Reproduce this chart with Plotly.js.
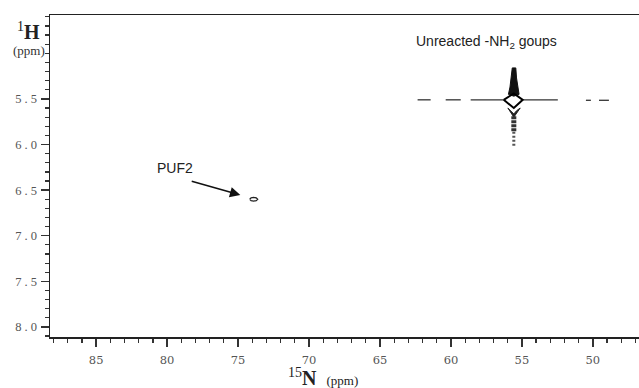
<!DOCTYPE html>
<html><head><meta charset="utf-8">
<script src="https://cdn.plot.ly/plotly-3.0.1.min.js"></script>
<style>html,body{margin:0;padding:0;background:#fff}#c{width:639px;height:388px}</style>
</head><body><div id="c"></div>
<script>
// 15N (ppm) / 1H (ppm) contour outlines
var xTicks = [85, 80, 75, 70, 65, 60, 55, 50];
var yTicks = [5.5, 6.0, 6.5, 7.0, 7.5, 8.0];
var yTickText = ['5 . 5', '6 . 0', '6 . 5', '7 . 0', '7 . 5', '8 . 0'];

// horizontal ridge of the -NH2 cross-peak (segments separated by null)
var ridgeX = [62.35, 61.43, null, 60.37, 59.31, null, 58.61, 56.2, null, 54.9, 52.47, null, 50.49, 50.14, null, 49.57, 48.87];
var ridgeY = [5.51, 5.51, null, 5.51, 5.51, null, 5.51, 5.51, null, 5.51, 5.51, null, 5.515, 5.515, null, 5.515, 5.515];

// upper spike of the -NH2 peak (filled contour stack)
var spikeX = [55.68, 55.43, 55.38, 55.30, 55.20, 55.57, 55.95, 55.84, 55.76, 55.68];
var spikeY = [5.16, 5.16, 5.27, 5.37, 5.45, 5.47, 5.45, 5.37, 5.27, 5.16];

// diamond contour at the centre
var diamondX = [56.28, 55.57, 54.94, 55.57, 56.28];
var diamondY = [5.51, 5.44, 5.51, 5.60, 5.51];

// V-shaped contour just below the centre
var vX = [55.99, 55.57, 55.12, 55.38, 55.57, 55.76, 55.99];
var vY = [5.60, 5.70, 5.60, 5.63, 5.665, 5.63, 5.60];

// lower streak of the -NH2 peak (upper dense part, lower faint part)
var lowerX = [55.57, 55.57];
var lowerY = [5.69, 5.86];
var tailX = [55.57, 55.57];
var tailY = [5.86, 6.03];

// PUF2 cross-peak contour
var pufX = [74.18, 74.08, 73.9, 73.72, 73.62, 73.72, 73.9, 74.08, 74.18];
var pufY = [6.60, 6.585, 6.58, 6.585, 6.60, 6.615, 6.62, 6.615, 6.60];

var traces = [
  {x: ridgeX, y: ridgeY, mode: 'lines', line: {color: '#333', width: 1.3}, connectgaps: false, hoverinfo: 'skip'},
  {x: spikeX, y: spikeY, mode: 'lines', fill: 'toself', fillcolor: '#111', line: {color: '#111', width: 1}, hoverinfo: 'skip'},
  {x: vX, y: vY, mode: 'lines', fill: 'toself', fillcolor: '#222', line: {color: '#222', width: 1}, hoverinfo: 'skip'},
  {x: lowerX, y: lowerY, mode: 'lines', line: {color: '#333', width: 5, dash: '3px,1px'}, hoverinfo: 'skip'},
  {x: tailX, y: tailY, mode: 'lines', line: {color: '#555', width: 3, dash: '2px,2px'}, hoverinfo: 'skip'},
  {x: diamondX, y: diamondY, mode: 'lines', line: {color: '#000', width: 2}, hoverinfo: 'skip'},
  {x: pufX, y: pufY, mode: 'lines', line: {color: '#222', width: 1.3}, hoverinfo: 'skip'}
];

var tickFont = {family: 'Liberation Serif, DejaVu Serif, serif', size: 12.5, color: '#555'};

var layout = {
  width: 639, height: 388,
  margin: {l: 50, r: 0, t: 15, b: 51},
  paper_bgcolor: '#fff', plot_bgcolor: '#fff',
  showlegend: false,
  xaxis: {
    range: [88.25, 46.75],
    tickvals: xTicks, ticks: 'outside', ticklen: 8, tickwidth: 1.3, tickcolor: '#333',
    minor: {dtick: 1, ticks: 'outside', ticklen: 4, tickwidth: 1.2, tickcolor: '#333', showgrid: false},
    showgrid: false, zeroline: false,
    showline: true, linecolor: '#222', linewidth: 1.5, mirror: true,
    tickfont: {family: 'DejaVu Serif, serif', size: 11.5, color: '#555'}, ticklabelstandoff: 4
  },
  yaxis: {
    range: [8.11, 4.58],
    tickvals: yTicks, ticktext: yTickText, ticks: 'outside', ticklen: 8, tickwidth: 1.3, tickcolor: '#333',
    minor: {dtick: 0.1, ticks: 'outside', ticklen: 4, tickwidth: 1.2, tickcolor: '#333', showgrid: false},
    showgrid: false, zeroline: false,
    showline: true, linecolor: '#222', linewidth: 1.5,
    tickfont: tickFont, ticklabelstandoff: 1
  },
  annotations: [
    {xref: 'x', yref: 'y', x: 62.63, y: 4.875, xanchor: 'left', yanchor: 'middle', showarrow: false,
     text: 'Unreacted -NH<sub>2</sub> goups', font: {family: 'Liberation Sans, Arial, sans-serif', size: 14, color: '#222'}},
    {xref: 'x', yref: 'y', x: 80.84, y: 6.257, xanchor: 'left', yanchor: 'middle', showarrow: false,
     text: 'PUF2', font: {family: 'Liberation Sans, Arial, sans-serif', size: 14, color: '#222'}},
    {xref: 'x', yref: 'y', axref: 'x', ayref: 'y', x: 74.84, y: 6.553, ax: 78.37, ay: 6.399,
     showarrow: true, arrowhead: 2, arrowsize: 1.3, arrowwidth: 1.6, arrowcolor: '#111', text: ''},
    {xref: 'paper', yref: 'paper', x: (28 - 50) / 589, y: (337 - 31) / 322, xanchor: 'center', yanchor: 'middle', showarrow: false,
     text: '<sup>1</sup><b>H</b>', font: {family: 'Liberation Serif, DejaVu Serif, serif', size: 20, color: '#222'}},
    {xref: 'paper', yref: 'paper', x: (29 - 50) / 589, y: (337 - 50) / 322, xanchor: 'center', yanchor: 'middle', showarrow: false,
     text: '(ppm)', font: {family: 'Liberation Serif, DejaVu Serif, serif', size: 13, color: '#333'}},
    {xref: 'paper', yref: 'paper', x: (323 - 50) / 589, y: (337 - 377) / 322, xanchor: 'center', yanchor: 'middle', showarrow: false,
     text: '<sup>15</sup><b>N</b>  <span style="font-size:13px">(ppm)</span>', font: {family: 'Liberation Serif, DejaVu Serif, serif', size: 20, color: '#222'}}
  ]
};

Plotly.newPlot('c', traces, layout, {staticPlot: true, displayModeBar: false});
</script>
</body></html>
